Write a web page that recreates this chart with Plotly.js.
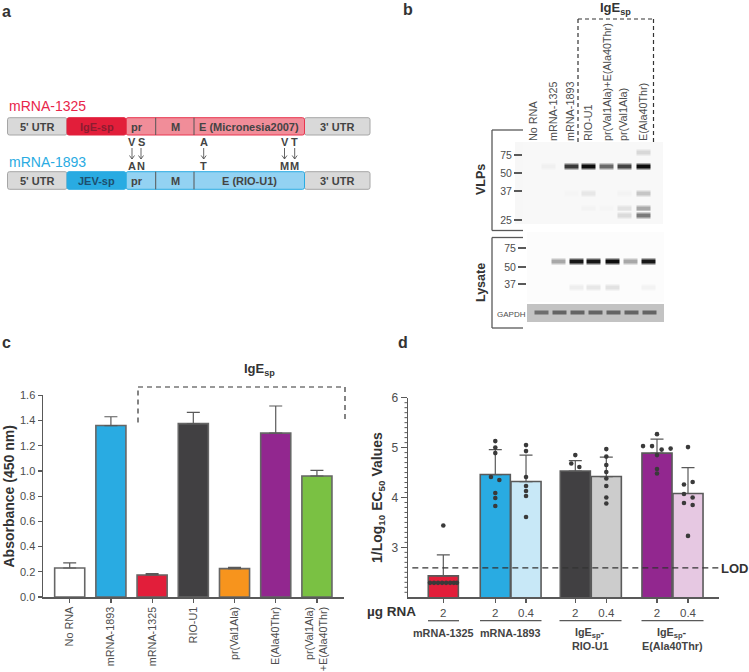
<!DOCTYPE html>
<html><head><meta charset="utf-8">
<script src="https://cdn.plot.ly/plotly-3.0.1.min.js"></script>
<style>html,body{margin:0;padding:0;background:#fff}#chart{width:749px;height:672px}</style>
</head><body><div id="chart"></div>
<script>
// ---------- Panel c data ----------
const cCategories = ["No RNA","mRNA-1893","mRNA-1325","RIO-U1","pr(Val1Ala)","E(Ala40Thr)","pr(Val1Ala)<br>+E(Ala40Thr)"];
const cValues = [0.23,1.36,0.175,1.375,0.225,1.30,0.96];
const cErrors = [0.04,0.07,0.01,0.09,0.01,0.215,0.045];
const cColors = ["#ffffff","#29abe2","#e21e3a","#414042","#f7941d","#92278f","#7ac143"];

// ---------- Panel d data ----------
const dPositions = [0,1.677,2.668,4.258,5.258,6.893,7.893];
const dDoses = ["2","2","0.4","2","0.4","2","0.4"];
const dValues = [2.43,4.46,4.32,4.53,4.42,4.89,4.08];
const dErrors = [0.42,0.50,0.53,0.21,0.39,0.28,0.52];
const dColors = ["#e21e3a","#29abe2","#c8e8f7","#414042","#cccccc","#92278f","#e6c8e2"];
const dDotOffsets = [
  [-.43,-.30,-.17,-.04,.09,.22,.34,.44,0],
  [0,0,0,-.14,.13,0,0,0],
  [0,0,0,0,0,0,0],
  [0,-.13,.13],
  [0,0,0,0,0,0,0,0],
  [0,-.45,-.16,.15,.44,0,0,0],
  [0,.15,-.13,-.13,.15,-.13,.15,0]
];
const dDotValues = [
  [2.29,2.29,2.29,2.29,2.29,2.29,2.29,2.29,3.44],
  [5.13,5.0,4.89,4.41,4.35,4.09,3.99,3.83],
  [5.05,4.93,4.41,4.23,4.13,4.03,3.61],
  [4.85,4.68,4.61],
  [4.97,4.82,4.65,4.51,4.38,4.23,4.0,3.88],
  [5.27,5.03,5.03,4.96,4.98,4.85,4.57,4.48],
  [5.01,4.31,4.26,4.07,4.0,3.89,3.85,3.23]
];
const lodValue = 2.59;

// ---------- Panel b data (band intensity by lane) ----------
const vlpLabels = ["No RNA","mRNA-1325","mRNA-1893","RIO-U1","pr(Val1Ala)+E(Ala40Thr)","pr(Val1Ala)","E(Ala40Thr)"];
const vlpLabelPos = [533,553,570,588,607,623,643];
const vlpLanes = [532,548,571,588,606,624,643];
const vlpBandPos = [152,166,193,208,215];
const vlpBands = [
  [0,0,0,0,0,0,.16],
  [.02,.06,.82,1,.62,.78,1],
  [0,0,.04,.1,.03,.05,.24],
  [0,0,0,.05,.04,.12,.36],
  [0,0,0,.03,.03,.15,.55]
];
const lysLanes = [540,558,576,593,612,630,648];
const lysBandPos = [261,287];
const lysBands = [
  [0,.36,.96,.96,1,.36,.96],
  [0,0,.07,.1,.12,0,.05]
];
const gapdhLanes = [541,559,577,595,613,631,649];
const gapdhBands = [[.6,.64,.64,.64,.64,.64,.64]];
const kdaVlp = ["75","50","37","25"], kdaVlpPos = [155,173,191,220];
const kdaLys = ["75","50","37"], kdaLysPos = [248,267,284];

// ---------- Helpers ----------
const W = 749, H = 672;
const TXT = "#4d4d4d", LINE = "#595959", FONT = "Liberation Sans, Arial, sans-serif";
const px = x => x / W, py = y => 1 - y / H;
const dx = (a, b) => [px(a), px(b)], dy = (t, b) => [py(b), py(t)];
const shapes = [], annotations = [];
function ann(text, x, y, o) {
  annotations.push(Object.assign({text, x: px(x), y: py(y), xref: "paper", yref: "paper", showarrow: false,
    xanchor: "center", yanchor: "middle", font: {family: FONT, size: 11, color: TXT}}, o || {}));
}
function f(size, color, bold) { return {family: FONT, size, color: color || TXT, weight: bold ? 700 : 400}; }
function line(x0, y0, x1, y1, color, width, dash) {
  shapes.push({type: "line", xref: "paper", yref: "paper", x0: px(x0), y0: py(y0), x1: px(x1), y1: py(y1),
    line: {color: color || LINE, width: width || 1.3, dash: dash || "solid"}});
}
function rrect(x0, y0, x1, y1, r, fill, stroke) {
  const p = (x, y) => px(x) + "," + py(y);
  const path = "M" + p(x0 + r, y0) + " L" + p(x1 - r, y0) + " Q" + p(x1, y0) + " " + p(x1, y0 + r) +
    " L" + p(x1, y1 - r) + " Q" + p(x1, y1) + " " + p(x1 - r, y1) + " L" + p(x0 + r, y1) +
    " Q" + p(x0, y1) + " " + p(x0, y1 - r) + " L" + p(x0, y0 + r) + " Q" + p(x0, y0) + " " + p(x0 + r, y0) + " Z";
  shapes.push({type: "path", xref: "paper", yref: "paper", path, fillcolor: fill, line: {color: stroke, width: 1}});
}

// ---------- Panel letters ----------
[["a",6,11],["b",408,10],["c",6,342],["d",403,342]].forEach(a => ann(a[0], a[1], a[2], {font: f(16, "#333", true)}));

// ---------- Panel a schematic ----------
function geneRow(y0, y1, spName, spFill, spText, regionFill, regionStroke, eName) {
  rrect(7.5, y0, 67, y1, 2, "#d9d9d9", "#a6a6a6");
  rrect(304.5, y0, 370, y1, 2, "#d9d9d9", "#a6a6a6");
  rrect(126, y0, 304.5, y1, 2, regionFill, regionStroke);
  rrect(67, y0, 126, y1, 2, spFill, spFill);
  line(155.7, y0, 155.7, y1, "#555", 1);
  line(194, y0, 194, y1, "#555", 1);
  const my = (y0 + y1) / 2 + .5;
  ann("5' UTR", 37, my, {font: f(11, "#444", true)});
  ann("3' UTR", 337, my, {font: f(11, "#444", true)});
  ann(spName, 96.5, my, {font: f(11, spText, true)});
  ann("pr", 137, my, {font: f(11, "#444", true)});
  ann("M", 175, my, {font: f(11, "#444", true)});
  ann(eName, 249, my, {font: f(11, "#444", true)});
}
geneRow(117.7, 135, "IgE-sp", "#e21e3a", "#8c1c30", "#f18d99", "#e8354f", "E (Micronesia2007)");
geneRow(171.7, 189.3, "JEV-sp", "#29abe2", "#1d4f6e", "#93d2f2", "#29abe2", "E (RIO-U1)");
ann("mRNA-1325", 6.5, 106.5, {xanchor: "left", font: f(14, "#e8254a")});
ann("mRNA-1893", 6.5, 161.5, {xanchor: "left", font: f(14, "#29abe2")});
[["V","A",132],["S","N",141],["A","T",203.7],["V","M",284.5],["T","M",294.7]].forEach(m => {
  ann(m[0], m[2], 142, {font: f(11, "#444", true)});
  ann(m[1], m[2], 166, {font: f(11, "#444", true)});
  line(m[2], 148, m[2], 159, "#555", .9);
  line(m[2] - 2.5, 155.5, m[2], 159, "#555", .9);
  line(m[2] + 2.5, 155.5, m[2], 159, "#555", .9);
});

// ---------- Panel b overlay ----------
ann("IgE<sub>sp</sub>", 615, 9, {font: f(13, "#333", true)});
line(578, 142, 578, 19, "#333", 1.2, "4px,3px");
line(578, 19, 653.5, 19, "#333", 1.2, "4px,3px");
line(653.5, 19, 653.5, 142, "#333", 1.2, "4px,3px");
line(523, 130, 492, 130, LINE, 1.3); line(492, 130, 492, 230.5, LINE, 1.3); line(492, 230.5, 523, 230.5, LINE, 1.3);
line(523, 237.5, 492, 237.5, LINE, 1.3); line(492, 237.5, 492, 328, LINE, 1.3); line(492, 328, 523, 328, LINE, 1.3);
ann("VLPs", 481, 180, {textangle: -90, font: f(12.5, "#333", true)});
ann("Lysate", 481, 283, {textangle: -90, font: f(12.5, "#333", true)});
ann("GAPDH", 511, 314, {font: f(8, TXT)});
shapes.push({type: "rect", xref: "paper", yref: "paper", x0: px(515), x1: px(523), y0: py(224), y1: py(142), layer: "below", fillcolor: "#f7f7f7", line: {width: 0}});

// ---------- Panel c overlay ----------
ann("IgE<sub>sp</sub>", 259, 369, {font: f(13, "#333", true)});
line(138, 422.5, 138, 387, "#333", 1.2, "5px,4px");
line(138, 387, 345, 387, "#333", 1.2, "5px,4px");
line(345, 387, 345, 421, "#333", 1.2, "5px,4px");
ann("Absorbance (450 nm)", 8.5, 497, {textangle: -90, font: f(14, "#333", true)});

// ---------- Panel d overlay ----------
ann("1/Log<sub>10</sub> EC<sub>50</sub> Values", 378, 497, {textangle: -90, font: f(14, "#333", true)});
ann("µg RNA", 418, 611.5, {xanchor: "right", font: f(13.5, "#333", true)});
ann("LOD", 719, 568, {xanchor: "left", font: f(13, "#333", true)});
[[428,459],[480,541.5],[559.5,621.5],[641.5,703.5]].forEach(g => line(g[0], 620.7, g[1], 620.7, LINE, 1.3));
const gLab = f(10.8, "#444", true);
ann("mRNA-1325", 443, 632.5, {font: gLab});
ann("mRNA-1893", 510.7, 632.5, {font: gLab});
ann("IgE<sub>sp</sub>-", 590, 632.5, {font: gLab});
ann("RIO-U1", 590, 646, {font: gLab});
ann("IgE<sub>sp</sub>-", 672, 632.5, {font: gLab});
ann("E(Ala40Thr)", 672, 646, {font: gLab});
// minor ticks of panel d's y axis (one every 0.1 between 2 and 6)
for (let i = 1; i < 40; i++) {
  if (i % 10 === 0) continue;
  const t = 597.3 - i / 40 * (597.3 - 397.7);
  line(404.5, t, 408, t, LINE, 1);
}

// ---------- Blot grid builder ----------
function blot(lanes, bandPos, bands, yRange, xRange, hw, hh, bg, xa, ya) {
  const xs = [xRange[0]];
  lanes.forEach(l => xs.push(l - hw, l - hw + 2, l + hw - 2, l + hw));
  xs.push(xRange[1]);
  const rows = [{y: yRange[0], b: -1}];
  bandPos.forEach((p, i) => {
    rows.push({y: p - hh, b: -1}, {y: p - hh * .3, b: i}, {y: p + hh * .3, b: i}, {y: p + hh, b: -1});
  });
  rows.push({y: yRange[1], b: -1});
  const z = rows.map(r => {
    const row = [bg];
    lanes.forEach((l, k) => {
      const v = r.b >= 0 ? Math.max(bg, bands[r.b][k]) : bg;
      row.push(bg, v, v, bg);
    });
    row.push(bg);
    return row;
  });
  return {type: "heatmap", x: xs, y: rows.map(r => r.y), z, zmin: 0, zmax: 1, zsmooth: "best", showscale: false, hoverinfo: "skip",
    colorscale: [[0, "#ffffff"], [1, "#0d0d0d"]], xaxis: xa, yaxis: ya};
}

// ---------- Traces ----------
const cIdx = cCategories.map((_, i) => i);
const traces = [
  {type: "bar", x: cIdx, y: cValues, width: .73, marker: {color: cColors, line: {color: "#666", width: 1.6}},
   error_y: {type: "data", symmetric: false, array: cErrors, arrayminus: cErrors.map(() => 0), color: "#595959", thickness: 1.2, width: 6.5},
   xaxis: "x", yaxis: "y", hoverinfo: "skip"},
  {type: "bar", x: dPositions, y: dValues, width: .97, marker: {color: dColors, line: {color: "#5a5a5a", width: 1.6}},
   error_y: {type: "data", symmetric: false, array: dErrors, arrayminus: dErrors.map(() => 0), color: "#595959", thickness: 1.2, width: 6.5},
   xaxis: "x2", yaxis: "y2", hoverinfo: "skip"},
  {type: "scatter", mode: "markers",
   x: dPositions.flatMap((p, i) => dDotOffsets[i].map(o => p + o)),
   y: dDotValues.flat(), marker: {color: "#3a3a3a", size: 4.6}, xaxis: "x2", yaxis: "y2", hoverinfo: "skip"},
  {type: "scatter", mode: "lines", x: [-1.0, 8.893], y: [lodValue, lodValue], line: {color: "#333", width: 1.2, dash: "6px,4px"}, xaxis: "x2", yaxis: "y2", hoverinfo: "skip"},
  blot(vlpLanes, vlpBandPos, vlpBands, [142,224], [523,663], 7.8, 4.2, .03, "x3", "y3"),
  blot(lysLanes, lysBandPos, lysBands, [232,302], [527,664], 7.8, 3.8, .012, "x4", "y4"),
  blot(gapdhLanes, [312], gapdhBands, [304,322], [527,664], 8, 2.8, .25, "x5", "y5")
];

// ---------- Layout ----------
const axC = {showgrid: false, zeroline: false, showline: true, linecolor: LINE, linewidth: 1.5, ticks: "outside", tickcolor: LINE, tickwidth: 1.2};
const hidden = {showgrid: false, zeroline: false, showline: false, showticklabels: false, ticks: ""};
const kdaAxis = {showgrid: false, zeroline: false, showline: false, ticks: "outside", ticklen: 8, tickwidth: 1.4, tickcolor: LINE, tickfont: f(10.5, TXT), tickmode: "array"};
const layout = {
  width: W, height: H, margin: {l: 0, r: 0, t: 0, b: 0}, paper_bgcolor: "#fff", plot_bgcolor: "rgba(0,0,0,0)",
  showlegend: false, barmode: "overlay", font: {family: FONT, color: TXT}, shapes, annotations,
  xaxis: Object.assign({}, axC, {domain: dx(43, 344), range: [-.648, 6.657], tickmode: "array", tickvals: cIdx, ticktext: cCategories, tickangle: -90, ticklen: 4, tickfont: f(10.8, TXT)}),
  yaxis: Object.assign({}, axC, {domain: dy(395.3, 597), range: [0, 1.6], dtick: .2, tickformat: ".1f", ticklen: 4, tickfont: f(11, TXT)}),
  xaxis2: Object.assign({}, axC, {domain: dx(408, 719), range: [-1.139, 8.893], anchor: "y2", tickmode: "array", tickvals: dPositions, ticktext: dDoses, ticklen: 4, tickfont: f(11.5, TXT)}),
  yaxis2: Object.assign({}, axC, {domain: dy(397.7, 597.3), range: [2, 6], anchor: "x2", tickmode: "array", tickvals: [3,4,5,6], ticklen: 6, tickfont: f(12, TXT)}),
  xaxis3: Object.assign({}, hidden, {domain: dx(523, 663), range: [523, 663], anchor: "y3", side: "top", showticklabels: true, tickmode: "array", tickvals: vlpLabelPos, ticktext: vlpLabels, tickangle: -90, ticks: "", tickfont: f(10.8, TXT)}),
  yaxis3: Object.assign({}, kdaAxis, {domain: dy(142, 224), range: [224, 142], anchor: "x3", tickvals: kdaVlpPos, ticktext: kdaVlp}),
  xaxis4: Object.assign({}, hidden, {domain: dx(527, 664), range: [527, 664], anchor: "y4"}),
  yaxis4: Object.assign({}, kdaAxis, {domain: dy(232, 302), range: [302, 232], anchor: "x4", tickvals: kdaLysPos, ticktext: kdaLys}),
  xaxis5: Object.assign({}, hidden, {domain: dx(527, 664), range: [527, 664], anchor: "y5"}),
  yaxis5: Object.assign({}, hidden, {domain: dy(304, 322), range: [322, 304], anchor: "x5"})
};
Plotly.newPlot("chart", traces, layout, {displayModeBar: false, staticPlot: true});
</script></body></html>
